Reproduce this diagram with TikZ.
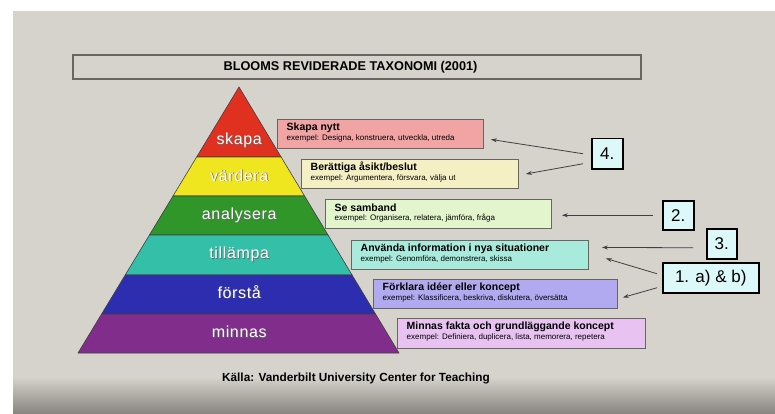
\documentclass[tikz,border=0pt]{standalone}
\usepackage{fontspec}
\setmainfont{Liberation Sans}
\newfontfamily\layerfont[LetterSpace=4]{Liberation Sans}
\usetikzlibrary{arrows.meta,calc}
\definecolor{bg}{RGB}{214,211,205}
\definecolor{bgdark}{RGB}{135,132,127}
\definecolor{cred}{RGB}{224,48,32}
\definecolor{cyellow}{RGB}{240,230,32}
\definecolor{cgreen}{RGB}{48,150,42}
\definecolor{cteal}{RGB}{52,192,168}
\definecolor{cblue}{RGB}{45,45,175}
\definecolor{cpurple}{RGB}{128,45,140}
\definecolor{dred}{RGB}{242,163,163}
\definecolor{dyellow}{RGB}{245,240,195}
\definecolor{dgreen}{RGB}{227,245,204}
\definecolor{dteal}{RGB}{168,234,219}
\definecolor{dblue}{RGB}{178,170,240}
\definecolor{dpurple}{RGB}{232,195,242}
\definecolor{nfill}{RGB}{220,248,248}
\definecolor{frame}{RGB}{105,102,98}
\begin{document}
\begin{tikzpicture}[x=1pt,y=-1pt,
  layer/.style={draw=black!75,line width=0.6pt,line join=round},
  lab/.style={anchor=base,inner sep=0pt,text=white,font=\layerfont\fontsize{16}{16}\selectfont},
  labshadow/.style={lab,text=black!60},
  descbox/.style={draw=frame,line width=0.9pt,rectangle,anchor=north west,inner sep=0pt,minimum height=29pt},
  desctitle/.style={anchor=west,inner sep=0pt,font=\bfseries\fontsize{10.5}{11}\selectfont},
  descex/.style={anchor=west,inner sep=0pt,font=\fontsize{8}{9}\selectfont},
  numbox/.style={draw=black,line width=1.5pt,fill=nfill,rectangle,anchor=north west,inner sep=0pt,minimum height=30pt,font=\fontsize{17}{17}\selectfont},
  arr/.style={draw=black!75,line width=0.8pt,-{Stealth[length=6pt,width=4pt]}}
]
\useasboundingbox (0,0) rectangle (775,414);
\fill[white] (0,0) rectangle (775,414);
\fill[bg] (13,11) rectangle (775,414);
\shade[top color=bg,bottom color=bgdark] (13,377) rectangle (775,414);

% title
\node[draw=frame,line width=1.2pt,rectangle,minimum width=568pt,minimum height=24pt,inner sep=0pt] (titlebox) at (357,67) {};
\node[inner sep=0pt,font=\bfseries\fontsize{12.7}{13}\selectfont] (title) at (350.5,67.5) {BLOOMS REVIDERADE TAXONOMI (2001)};

% pyramid
\coordinate (apex) at (239,87);
\coordinate (bl) at (78,353);
\coordinate (br) at (399,353);
\foreach \i/\t in {1/0.2632,2/0.4098,3/0.5564,4/0.7068,5/0.8534}{
  \coordinate (L\i) at ($(apex)!\t!(bl)$);
  \coordinate (R\i) at ($(apex)!\t!(br)$);
}
\filldraw[layer,fill=cred] (apex) -- (R1) -- (L1) -- cycle;
\filldraw[layer,fill=cyellow] (L1) -- (R1) -- (R2) -- (L2) -- cycle;
\filldraw[layer,fill=cgreen] (L2) -- (R2) -- (R3) -- (L3) -- cycle;
\filldraw[layer,fill=cteal] (L3) -- (R3) -- (R4) -- (L4) -- cycle;
\filldraw[layer,fill=cblue] (L4) -- (R4) -- (R5) -- (L5) -- cycle;
\filldraw[layer,fill=cpurple] (L5) -- (R5) -- (br) -- (bl) -- cycle;

\foreach \n/\y/\w in {l1/145/skapa,l2/181/värdera,l3/219.5/analysera,l4/258.5/tillämpa,l5/298/förstå,l6/337.5/minnas}{
  \node[labshadow] (\n s) at (240,\y+0.9) {\w};
  \node[lab] (\n) at (239.2,\y) {\w};
}

% description boxes
\node[descbox,fill=dred,minimum width=206pt] (d1) at (277,119) {};
\node[descbox,fill=dyellow,minimum width=217pt] (d2) at (301,159) {};
\node[descbox,fill=dgreen,minimum width=226pt] (d3) at (325,199) {};
\node[descbox,fill=dteal,minimum width=237pt] (d4) at (351,240) {};
\node[descbox,fill=dblue,minimum width=244pt] (d5) at (373,279) {};
\node[descbox,fill=dpurple,minimum width=248pt,minimum height=30pt] (d6) at (397,318) {};

\foreach \d/\a/\b in {
  d1/Skapa nytt/{exempel: Designa, konstruera, utveckla, utreda},
  d2/Berättiga åsikt\slash beslut/{exempel: Argumentera, försvara, välja ut},
  d3/Se samband/{exempel: Organisera, relatera, jämföra, fråga},
  d4/Använda information i nya situationer/{exempel: Genomföra, demonstrera, skissa},
  d5/Förklara idéer eller koncept/{exempel: Klassificera, beskriva, diskutera, översätta},
  d6/Minnas fakta och grundläggande koncept/{exempel: Definiera, duplicera, lista, memorera, repetera}}{
  \node[desctitle] (\d t) at ([shift={(9.5pt,-8.5pt)}]\d.north west) {\a};
  \node[descex] (\d e) at ([shift={(9.5pt,-19.5pt)}]\d.north west) {\b};
}

% number boxes
\node[numbox,minimum width=31pt] (n4) at (591,138) {4.};
\node[numbox,minimum width=31pt,minimum height=29pt] (n2) at (662,200) {2.};
\node[numbox,minimum width=30pt] (n3) at (706,228) {3.};
\node[numbox,minimum width=96pt] (n1) at (662,262) {1. a) \& b)};

% arrows
\draw[arr] ([xshift=-8pt]n4.west) -- ([shift={(7pt,-5.5pt)}]d1.east);
\draw[arr] ([shift={(-8pt,-10pt)}]n4.west) -- ([xshift=7pt]d2.east);
\draw[arr] ([xshift=-9pt]n2.west) -- ([xshift=10pt]n2.west -| d3.east);
\draw[arr] ([shift={(-13pt,-4pt)}]n3.west) -- ([shift={(13pt,7.5pt)}]d4.east);
\draw[arr] ([shift={(-5pt,4pt)}]n1.west) -- ([shift={(17pt,-3.5pt)}]d4.east);
\draw[arr] ([shift={(-5pt,-10pt)}]n1.west) -- ([shift={(5pt,-3.5pt)}]d5.east);

% source
\node[inner sep=0pt,font=\bfseries\fontsize{11.8}{12}\selectfont] (src) at (356,378) {Källa: Vanderbilt University Center for Teaching};
\end{tikzpicture}
\end{document}
